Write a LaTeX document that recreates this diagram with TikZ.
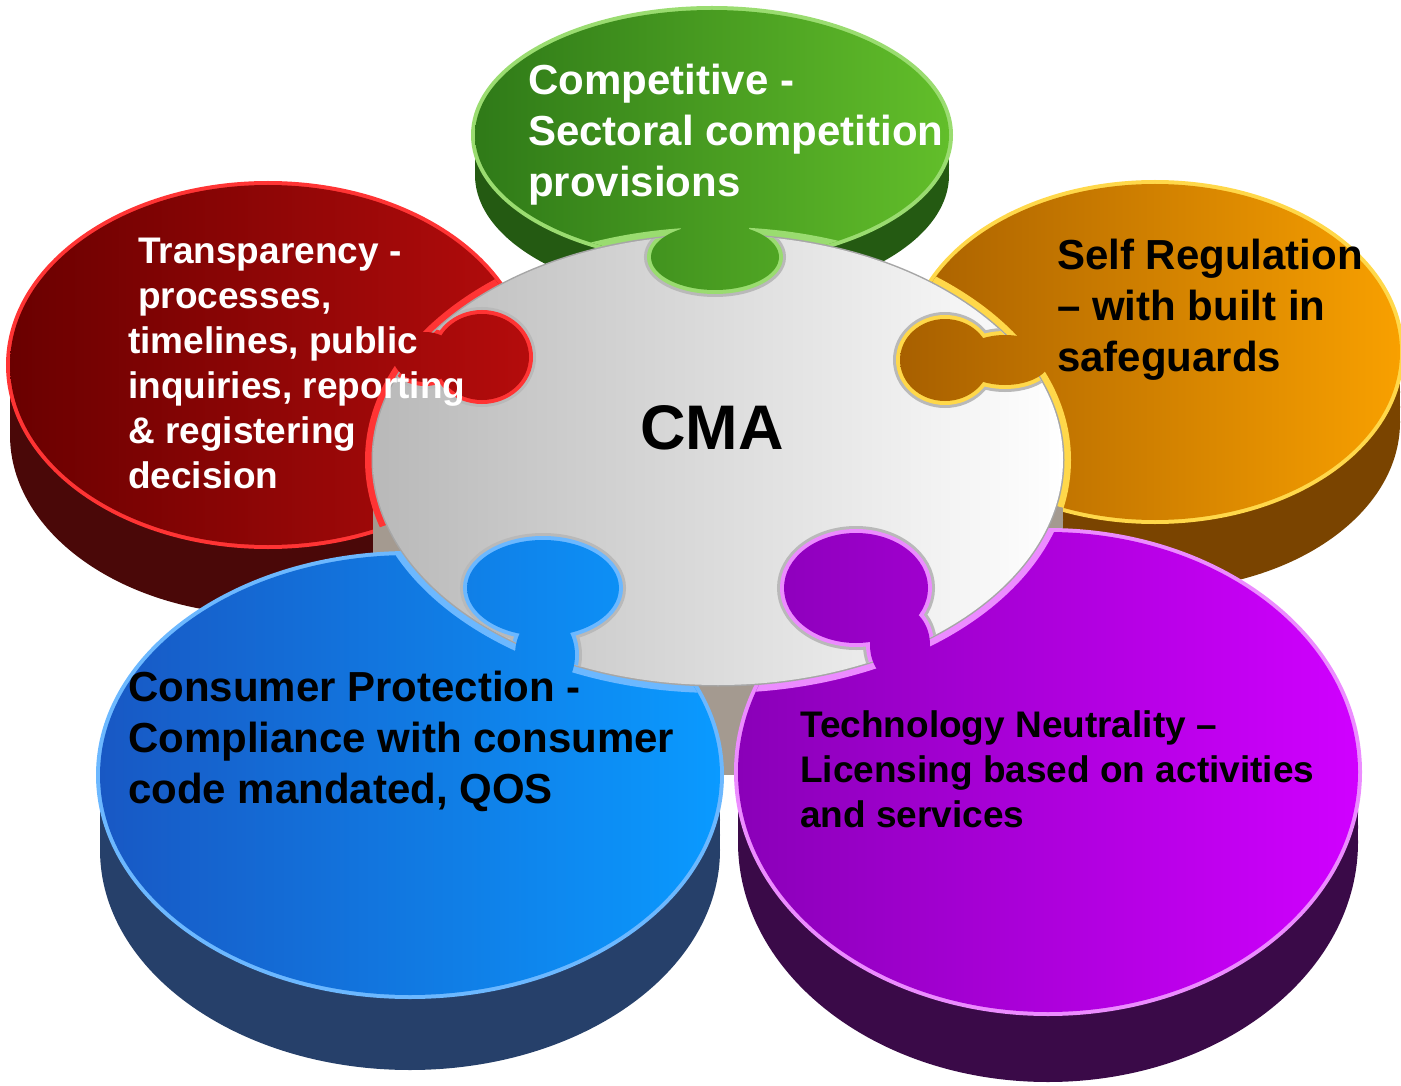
\documentclass[tikz,border=0pt]{standalone}
\usepackage{fontspec}
\setmainfont{Liberation Sans}
\definecolor{grnA}{HTML}{2F7A18}
\definecolor{grnB}{HTML}{62BE2A}
\definecolor{grnR}{HTML}{9ADC70}
\definecolor{grnS}{HTML}{245A12}
\definecolor{redA}{HTML}{6A0000}
\definecolor{redB}{HTML}{B40C0C}
\definecolor{redR}{HTML}{FF3434}
\definecolor{redS}{HTML}{4A0808}
\definecolor{orgA}{HTML}{A86000}
\definecolor{orgB}{HTML}{F8A000}
\definecolor{orgR}{HTML}{FFD84A}
\definecolor{orgS}{HTML}{7A4400}
\definecolor{bluA}{HTML}{1858C4}
\definecolor{bluB}{HTML}{0A9AFF}
\definecolor{bluR}{HTML}{6CB8FF}
\definecolor{bluS}{HTML}{26406A}
\definecolor{purA}{HTML}{8A00B8}
\definecolor{purB}{HTML}{D000FF}
\definecolor{purR}{HTML}{EC8CFF}
\definecolor{purS}{HTML}{3A0A48}
\definecolor{cmaS}{HTML}{A49A90}
% knobs (with their necks) and whole pieces
\newcommand\greenkn{(715,228) ellipse (34 and 30) (715,257) ellipse (64 and 33)}
\newcommand\greenpc{(712,135) ellipse (237 and 125) \greenkn}
\newcommand\redkn{(425,357) ellipse (32 and 25) (482,357) ellipse (47 and 43)}
\newcommand\redpc{(268,365) ellipse (258 and 180) \redkn}
\newcommand\orgkn{(1005,360) ellipse (45 and 25) (945,360) ellipse (45 and 41)}
\newcommand\orgpc{(1155,352) ellipse (245 and 168) \orgkn}
\newcommand\blukn{(545,655) ellipse (30 and 40) (543,588) ellipse (76 and 48)}
\newcommand\blupc{(410,775) ellipse (310 and 220) \blukn}
\newcommand\purkn{(900,645) ellipse (30 and 38) (856,588) ellipse (72 and 55)}
\newcommand\purpc{(1048,772) ellipse (310 and 240) \purkn}
\newcommand\cmapc{(718,460) ellipse (345 and 225)}
\begin{document}
\begin{tikzpicture}[x=1pt,y=-1pt,
    blurb/.style={inner sep=0pt,anchor=north west,align=left,
        font=\bfseries\fontsize{42}{51}\selectfont},
    small/.style={font=\bfseries\fontsize{37}{45}\selectfont},
    rim/.style={line width=8pt},
    edge/.style={line width=14pt,gray!55}]
\useasboundingbox (0,0) rectangle (1401,1086);

% back pieces
\foreach \d in {40,30,20,10}
    \fill[grnS,shift={(0,\d)}] \greenpc;
\foreach \d in {70,55,40,25,10}
    \fill[redS,shift={(0,\d)}] \redpc;
\foreach \d in {70,55,40,25,10}
    \fill[orgS,shift={(0,\d)}] \orgpc;
\draw[rim,grnR] \greenpc;
\shade[left color=grnA,right color=grnB] \greenpc;
\draw[rim,redR] \redpc;
\shade[left color=redA,right color=redB] \redpc;
\draw[rim,orgR] \orgpc;
\shade[left color=orgA,right color=orgB] \orgpc;

% side of the centre piece
\foreach \d in {90,75,60,45,30,15}
    \fill[cmaS,shift={(0,\d)}] \cmapc;

% front pieces
\foreach \d in {75,60,45,30,15}
    \fill[bluS,shift={(0,\d)}] \blupc;
\foreach \d in {70,55,40,25,10}
    \fill[purS,shift={(0,\d)}] \purpc;
\draw[rim,bluR] \blupc;
\shade[left color=bluA,right color=bluB] \blupc;
\draw[rim,purR] \purpc;
\shade[left color=purA,right color=purB] \purpc;

% bright edges where the pieces meet the centre
\begin{scope}
    \clip \greenpc;
    \draw[grnR,line width=16pt] \cmapc;
\end{scope}
\begin{scope}
    \clip \redpc;
    \draw[redR,line width=16pt] \cmapc;
\end{scope}
\begin{scope}
    \clip \orgpc;
    \draw[orgR,line width=16pt] \cmapc;
\end{scope}
\begin{scope}
    \clip \blupc;
    \draw[bluR,line width=16pt] \cmapc;
\end{scope}
\begin{scope}
    \clip \purpc;
    \draw[purR,line width=16pt] \cmapc;
\end{scope}

% centre piece
\draw[gray!70,line width=3pt] \cmapc;
\shade[left color=gray!55,right color=white] \cmapc;

% knobs lying on the centre piece
\begin{scope}
    \clip \cmapc;
    \draw[edge] \greenkn \redkn \orgkn \blukn \purkn;
    \draw[rim,grnR] \greenkn;
    \draw[rim,redR] \redkn;
    \draw[rim,orgR] \orgkn;
    \draw[rim,bluR] \blukn;
    \draw[rim,purR] \purkn;
\end{scope}
\begin{scope}
    \clip \greenkn;
    \shade[left color=grnA,right color=grnB] \greenpc;
\end{scope}
\begin{scope}
    \clip \redkn;
    \shade[left color=redA,right color=redB] \redpc;
\end{scope}
\begin{scope}
    \clip \orgkn;
    \shade[left color=orgA,right color=orgB] \orgpc;
\end{scope}
\begin{scope}
    \clip \blukn;
    \shade[left color=bluA,right color=bluB] \blupc;
\end{scope}
\begin{scope}
    \clip \purkn;
    \shade[left color=purA,right color=purB] \purpc;
\end{scope}

\node[blurb,text=white] (compet) at (528,64)
    {Competitive -\\Sectoral competition\\provisions};
\node[blurb,small,text=white] (transp) at (128,238)
    {\hspace*{10pt}Transparency -\\\hspace*{10pt}processes,\\timelines, public\\inquiries, reporting\\\& registering\\decision};
\node[blurb] (selfreg) at (1057,239)
    {Self Regulation\\-- with built in\\safeguards};
\node[font=\bfseries\fontsize{63}{70}\selectfont] (cma) at (712,428) {CMA};
\node[blurb] (consum) at (128,671)
    {Consumer Protection -\\Compliance with consumer\\code mandated, QOS};
\node[blurb,small] (techn) at (800,710)
    {Technology Neutrality --\\Licensing based on activities\\and services};
\end{tikzpicture}
\end{document}
